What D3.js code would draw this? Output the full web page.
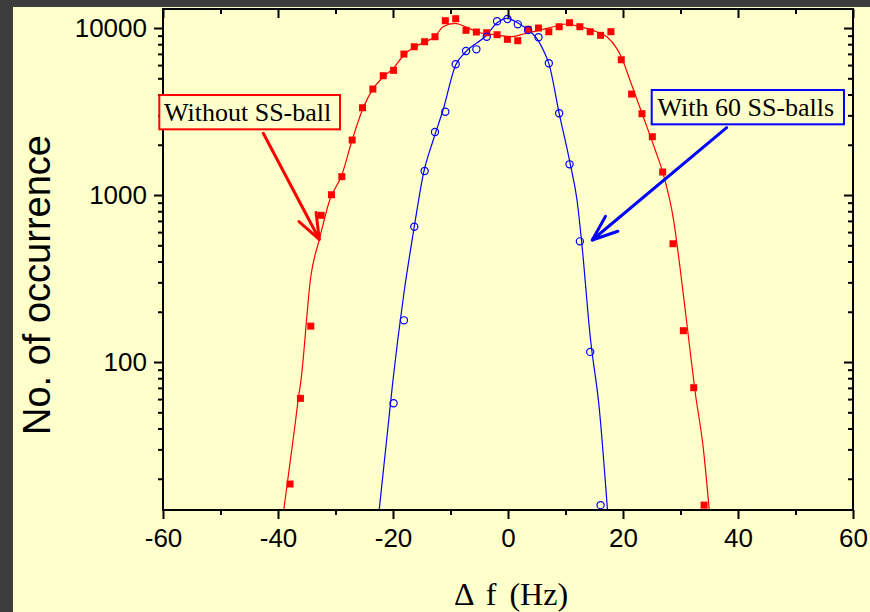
<!DOCTYPE html>
<html>
<head>
<meta charset="utf-8">
<script src="https://cdn.jsdelivr.net/npm/d3@7"></script>
<style>
  html, body { margin: 0; padding: 0; background: #3d3d3d; }
  svg { display: block; }
</style>
</head>
<body>
<svg id="chart" width="870" height="612"></svg>
<script>
// Measured histogram: frequency deviation (Hz) vs number of occurrences
const redX = [-37.9, -36.1, -34.3, -32.5, -30.7, -28.9, -27.1, -25.3, -23.5, -21.7, -19.9, -18.1, -16.3, -14.5, -12.7, -10.9, -9.1, -7.3, -5.5, -3.7, -1.9, -0.1, 1.7, 3.5, 5.3, 7.1, 8.9, 10.7, 12.5, 14.3, 16.1, 17.9, 19.7, 21.5, 23.3, 25.1, 26.9, 28.7, 30.5, 32.3, 34.1];
const redY = [18.6, 60.6, 164, 756, 1004, 1288, 2135, 3333, 4311, 5182, 5580, 6985, 7727, 8278, 8868, 11060, 11370, 9688, 9463, 9373, 9118, 8556, 8394, 9822, 10000, 9502, 10180, 10760, 10180, 9502, 9043, 9502, 6457, 4024, 3068, 2234, 1373, 511, 154, 70.2, 13.9];

const blueX = [-19.9, -18.1, -16.3, -14.5, -12.7, -10.9, -9.1, -7.3, -5.5, -3.7, -1.9, -0.1, 1.7, 3.5, 5.3, 7.1, 8.9, 10.7, 12.5, 14.3, 16.1];
const blueY = [56.6, 177.7, 646, 1392, 2385, 3153, 6063, 7280, 7455, 8868, 10970, 11320, 10520, 9728, 8797, 6147, 3085, 1527, 528, 115, 13.9];

// Fitted curves
const redFitX = [-39.0, -37.0, -36.5, -36.0, -34.3, -32.8, -31.0, -28.9, -27.1, -25.2, -23.5, -21.7, -19.9, -18.1, -16.3, -14.5, -12.7, -11.3, -9.2, -7.2, -4.9, -2.0, 0.4, 2.7, 5.6, 8.5, 10.2, 12.5, 15.4, 17.2, 18.9, 19.7, 21.2, 23.3, 25.6, 26.9, 28.8, 29.9, 31.1, 32.5, 34.0, 35.0];
const redFitY = [13, 43, 59.2, 78, 324, 543, 934, 1318, 2135, 3320, 4311, 5088, 5761, 6892, 7694, 8245, 8894, 10180, 10670, 10097, 9373, 9081, 8868, 9206, 9728, 10280, 10568, 10180, 9502, 8868, 7557, 6731, 4883, 3085, 1860, 1373, 708, 372, 170.6, 68, 29.7, 13];

const blueFitX = [-22.4, -20.8, -20.0, -18.1, -16.3, -14.7, -13.0, -11.3, -9.1, -7.5, -3.7, -2.0, -0.2, 1.8, 3.5, 5.0, 6.4, 7.1, 8.9, 10.8, 12.0, 12.8, 14.3, 15.9, 17.3];
const blueFitY = [13, 43, 78, 258, 646, 1349, 2135, 3228, 6005, 7112, 9081, 10670, 11430, 10670, 9728, 8676, 7055, 6147, 3085, 1548, 934, 528, 141.7, 51.6, 13];

// Axis ticks
const xTicks = [-60, -40, -20, 0, 20, 40, 60];
const xMinorTicks = [-50, -30, -10, 10, 30, 50];
const yTicks = [100, 1000, 10000];
const yMinorTicks = [20, 30, 40, 50, 60, 70, 80, 90, 200, 300, 400, 500, 600, 700, 800, 900, 2000, 3000, 4000, 5000, 6000, 7000, 8000, 9000];

// Callouts (text, box corners and arrow in data units)
const labels = [
  { text: "Without SS-ball", color: "#ff0000", x0: -60.64, x1: -29.22, yTop: 3970, yBot: 2474,
    from: [-42.56, 2342], to: [-32.82, 543] },
  { text: "With 60 SS-balls", color: "#0000ff", x0: 24.99, x1: 58.43, yTop: 4254, yBot: 2651,
    from: [38.03, 2530], to: [14.66, 538] }
];

const W = 870, H = 612;
const plotLeft = 163, plotRight = 853, plotTop = 9, plotBottom = 510;

const svg = d3.select("#chart");

svg.append("rect").attr("x", 0).attr("y", 0).attr("width", W).attr("height", H).attr("fill", "#3d3d3d");
svg.append("rect").attr("x", 13).attr("y", 7).attr("width", W - 13).attr("height", H - 7).attr("fill", "#ffffcc");

const x = d3.scaleLinear().domain([-60, 60]).range([plotLeft, plotRight]);
const y = d3.scaleLog().domain([13, 13000]).range([plotBottom, plotTop]);

svg.append("defs").append("clipPath").attr("id", "plotClip")
  .append("rect").attr("x", plotLeft).attr("y", plotTop)
  .attr("width", plotRight - plotLeft).attr("height", plotBottom - plotTop);

const plot = svg.append("g").attr("clip-path", "url(#plotClip)");

const line = d3.line().x(d => x(d[0])).y(d => y(d[1])).curve(d3.curveMonotoneX);

plot.append("path")
  .datum(redFitX.map((v, i) => [v, redFitY[i]]))
  .attr("d", line).attr("fill", "none").attr("stroke", "#ff0000").attr("stroke-width", 1.2);

plot.append("path")
  .datum(blueFitX.map((v, i) => [v, blueFitY[i]]))
  .attr("d", line).attr("fill", "none").attr("stroke", "#0000ff").attr("stroke-width", 1.2);

const sq = 7;
plot.selectAll("rect.red").data(redX.map((v, i) => [v, redY[i]])).enter()
  .append("rect").attr("class", "red")
  .attr("x", d => x(d[0]) - sq / 2).attr("y", d => y(d[1]) - sq / 2)
  .attr("width", sq).attr("height", sq).attr("fill", "#ff0000");

plot.selectAll("circle.blue").data(blueX.map((v, i) => [v, blueY[i]])).enter()
  .append("circle").attr("class", "blue")
  .attr("cx", d => x(d[0])).attr("cy", d => y(d[1])).attr("r", 3.6)
  .attr("fill", "none").attr("stroke", "#0000ff").attr("stroke-width", 1.2);

// Axes
const fmt = d => String(d);
function styleAxis(g) {
  g.select(".domain").remove();
  g.selectAll(".tick line").attr("stroke", "#000").attr("stroke-width", 2);
  g.selectAll(".tick text").attr("fill", "#000")
    .style("font-family", "'Liberation Sans', Arial, sans-serif").style("font-size", "26px");
}

svg.append("g").attr("transform", `translate(0,${plotBottom})`)
  .call(d3.axisBottom(x).tickValues(xTicks).tickFormat(fmt).tickSize(9).tickPadding(10))
  .call(styleAxis);
svg.append("g").attr("transform", `translate(0,${plotBottom})`)
  .call(d3.axisBottom(x).tickValues(xMinorTicks).tickFormat("").tickSize(5))
  .call(styleAxis);

svg.append("g").attr("transform", `translate(0,${plotTop})`)
  .call(d3.axisBottom(x).tickValues(xTicks).tickFormat("").tickSize(9))
  .call(styleAxis);
svg.append("g").attr("transform", `translate(0,${plotTop})`)
  .call(d3.axisBottom(x).tickValues(xMinorTicks).tickFormat("").tickSize(5))
  .call(styleAxis);

svg.append("g").attr("transform", `translate(${plotLeft},0)`)
  .call(d3.axisLeft(y).tickValues(yTicks).tickFormat(fmt).tickSize(9).tickPadding(7))
  .call(styleAxis);
svg.append("g").attr("transform", `translate(${plotLeft},0)`)
  .call(d3.axisLeft(y).tickValues(yMinorTicks).tickFormat("").tickSize(5))
  .call(styleAxis);

svg.append("g").attr("transform", `translate(${plotRight},0)`)
  .call(d3.axisLeft(y).tickValues(yTicks).tickFormat("").tickSize(9))
  .call(styleAxis);
svg.append("g").attr("transform", `translate(${plotRight},0)`)
  .call(d3.axisLeft(y).tickValues(yMinorTicks).tickFormat("").tickSize(5))
  .call(styleAxis);

svg.append("rect").attr("x", plotLeft).attr("y", plotTop)
  .attr("width", plotRight - plotLeft).attr("height", plotBottom - plotTop)
  .attr("fill", "none").attr("stroke", "#000").attr("stroke-width", 2);

// Axis titles
svg.append("text")
  .attr("transform", "translate(50,285) rotate(-90)")
  .attr("text-anchor", "middle")
  .style("font-family", "'Liberation Sans', Arial, sans-serif").style("font-size", "38px")
  .attr("fill", "#000").text("No. of occurrence");

svg.append("text")
  .attr("x", 511).attr("y", 605).attr("text-anchor", "middle")
  .style("font-family", "'Liberation Serif', 'Times New Roman', serif").style("font-size", "32px")
  .style("word-spacing", "5px")
  .attr("fill", "#000").text("\u0394 f (Hz)");

// Callouts
labels.forEach(l => {
  const bx0 = x(l.x0), bx1 = x(l.x1), by0 = y(l.yTop), by1 = y(l.yBot);
  svg.append("rect").attr("x", bx0).attr("y", by0).attr("width", bx1 - bx0).attr("height", by1 - by0)
    .attr("fill", "#ffffcc").attr("stroke", l.color).attr("stroke-width", 2);
  svg.append("text").attr("x", (bx0 + bx1) / 2 - 2).attr("y", (by0 + by1) / 2 + 9)
    .attr("text-anchor", "middle")
    .style("font-family", "'Liberation Serif', 'Times New Roman', serif").style("font-size", "26px")
    .attr("fill", "#000").text(l.text);

  const x1 = x(l.from[0]), y1 = y(l.from[1]), x2 = x(l.to[0]), y2 = y(l.to[1]);
  const ang = Math.atan2(y1 - y2, x1 - x2);
  const len = 27, spread = 21 * Math.PI / 180;
  const g = svg.append("g").attr("stroke", l.color).attr("stroke-width", 3).attr("fill", "none")
    .attr("stroke-linecap", "round").attr("stroke-linejoin", "round");
  g.append("line").attr("x1", x1).attr("y1", y1).attr("x2", x2).attr("y2", y2);
  g.append("path").attr("d",
    `M${x2 + len * Math.cos(ang - spread)},${y2 + len * Math.sin(ang - spread)}L${x2},${y2}L${x2 + len * Math.cos(ang + spread)},${y2 + len * Math.sin(ang + spread)}`);
});
</script>
</body>
</html>
